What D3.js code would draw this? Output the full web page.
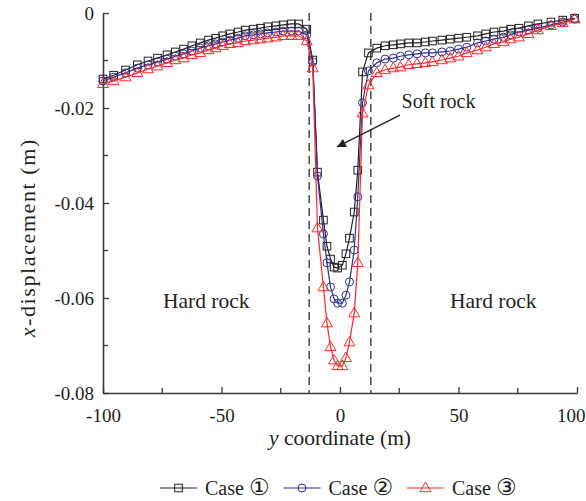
<!DOCTYPE html>
<html lang="en">
<head>
<meta charset="utf-8">
<script src="https://cdn.jsdelivr.net/npm/d3@7"></script>
<style>
    body { margin: 0; background: #fff; }
    text { font-family: "Liberation Serif", "DejaVu Serif", serif; fill: #231f20; }
</style>
</head>
<body>
<script>
// y coordinate of each monitoring point (m)
const yCoord = [
    -100, -95.5, -90.5, -85.5, -81, -77, -73, -69.5, -66, -62.5, -59, -55.5, -52.5,
    -49.5, -46.5, -43, -40, -36.5, -33.5, -30.5, -27, -24, -20.5, -17.5, -14,
    -11.5, -9.5, -7, -5.5, -4, -2.5, -1, 1, 2.5, 4, 6, 7.5, 9.5, 12,
    15.5, 19, 22.5, 25.5, 29, 32.5, 36, 39, 43, 46.5, 50, 53.5, 58, 61.5, 65,
    69, 72, 75.5, 79.5, 83.5, 89, 94, 99
];

// x-displacement (m)
const case1 = [
    -0.0139, -0.0131, -0.0120, -0.0109, -0.0101, -0.0095, -0.0088, -0.0082, -0.0076, -0.0069, -0.0063, -0.0057, -0.0053,
    -0.0048, -0.0044, -0.0040, -0.0036, -0.0034, -0.0032, -0.0029, -0.0027, -0.0025, -0.0023, -0.0023, -0.0034,
    -0.0099, -0.0335, -0.0436, -0.0491, -0.0518, -0.0535, -0.0537, -0.0531, -0.0507, -0.0474, -0.0419, -0.0331, -0.0124, -0.0084,
    -0.0074, -0.0069, -0.0067, -0.0065, -0.0063, -0.0063, -0.0061, -0.0059, -0.0057, -0.0055, -0.0053, -0.0051, -0.0048, -0.0044, -0.0040,
    -0.0038, -0.0034, -0.0032, -0.0027, -0.0023, -0.0019, -0.0015, -0.0011
];
const case2 = [
    -0.0143, -0.0135, -0.0126, -0.0116, -0.0109, -0.0103, -0.0097, -0.0091, -0.0086, -0.0080, -0.0074, -0.0069, -0.0065,
    -0.0061, -0.0057, -0.0053, -0.0048, -0.0046, -0.0044, -0.0042, -0.0040, -0.0038, -0.0038, -0.0038, -0.0046,
    -0.0103, -0.0343, -0.0465, -0.0526, -0.0577, -0.0602, -0.0611, -0.0611, -0.0594, -0.0566, -0.0499, -0.0387, -0.0189, -0.0122,
    -0.0105, -0.0097, -0.0095, -0.0091, -0.0088, -0.0086, -0.0084, -0.0084, -0.0082, -0.0080, -0.0076, -0.0072, -0.0063, -0.0059, -0.0055,
    -0.0051, -0.0046, -0.0040, -0.0036, -0.0032, -0.0025, -0.0019, -0.0013
];
const case3 = [
    -0.0149, -0.0143, -0.0135, -0.0126, -0.0118, -0.0112, -0.0105, -0.0099, -0.0095, -0.0088, -0.0084, -0.0078, -0.0074,
    -0.0069, -0.0065, -0.0063, -0.0059, -0.0057, -0.0055, -0.0053, -0.0051, -0.0048, -0.0048, -0.0048, -0.0059,
    -0.0116, -0.0453, -0.0577, -0.0653, -0.0703, -0.0731, -0.0743, -0.0743, -0.0726, -0.0693, -0.0632, -0.0526, -0.0211, -0.0152,
    -0.0126, -0.0120, -0.0116, -0.0114, -0.0109, -0.0107, -0.0105, -0.0103, -0.0099, -0.0095, -0.0091, -0.0084, -0.0078, -0.0072, -0.0065,
    -0.0061, -0.0055, -0.0051, -0.0044, -0.0036, -0.0027, -0.0021, -0.0013
];

const seriesNames = ["Case", "Case", "Case"];
const seriesNums = ["\u2460", "\u2461", "\u2462"];
const seriesColors = ["#231f20", "#2e3192", "#ff2a2a"];
const seriesMarkers = ["square", "circle", "triangle"];

const xTicks = [-100, -50, 0, 50, 100];
const xMinorTicks = [-75, -25, 25, 75];
const yTicks = [0, -0.02, -0.04, -0.06, -0.08];
const yMinorTicks = [-0.01, -0.03, -0.05, -0.07];
const softRockEdges = [-13, 13];

let w = 586, h = 501;
let margin = {top: 13, right: 9, bottom: 108, left: 103};

let svg = d3.select("body").append("svg")
    .attr("width", w)
    .attr("height", h);

let xScale = d3.scaleLinear()
    .domain([-100, 100])
    .range([margin.left, w - margin.right]);

let yScale = d3.scaleLinear()
    .domain([-0.08, 0])
    .range([h - margin.bottom, margin.top]);

let fmt = (d) => d === 0 ? "0" : (d < 0 ? "-" : "") + Math.abs(d);
let fmtY = (d) => d === 0 ? "0" : "-" + Math.abs(d).toFixed(2);

// axes (ticks pointing inward)
let xAxis = svg.append("g")
    .attr("transform", "translate(0," + (h - margin.bottom) + ")")
    .call(d3.axisBottom(xScale).tickValues(xTicks).tickFormat(fmt).tickSizeInner(-6).tickSizeOuter(0).tickPadding(16));
xAxis.append("g").selectAll("line")
    .data(xMinorTicks).enter().append("line")
    .attr("x1", d => xScale(d)).attr("x2", d => xScale(d))
    .attr("y1", 0).attr("y2", -5);

let yAxis = svg.append("g")
    .attr("transform", "translate(" + margin.left + ",0)")
    .call(d3.axisLeft(yScale).tickValues(yTicks).tickFormat(fmtY).tickSizeInner(-6).tickSizeOuter(0).tickPadding(9));
yAxis.append("g").selectAll("line")
    .data(yMinorTicks).enter().append("line")
    .attr("x1", 0).attr("x2", 5)
    .attr("y1", d => yScale(d)).attr("y2", d => yScale(d));

svg.selectAll(".domain").attr("stroke", "#3a3a3a").attr("stroke-width", 1.6);
svg.selectAll("g line").attr("stroke", "#3a3a3a").attr("stroke-width", 1.3);
svg.selectAll(".tick text").attr("font-size", "19px").attr("font-family", "Liberation Serif").attr("fill", "#231f20");
// keep the last x label inside the picture
xAxis.selectAll(".tick text").filter(d => d === 100).attr("text-anchor", "end").attr("dx", 8);

// dashed boundaries of the soft rock
svg.selectAll(".edge")
    .data(softRockEdges).enter().append("line")
    .attr("class", "edge")
    .attr("x1", d => xScale(d)).attr("x2", d => xScale(d))
    .attr("y1", yScale(0)).attr("y2", yScale(-0.08))
    .attr("stroke", "#3a3a3a")
    .attr("stroke-width", 1.4)
    .attr("stroke-dasharray", "8,5");

function drawMarker(g, type, x, y, color) {
    if (type === "square") {
        g.append("rect").attr("x", x - 3.8).attr("y", y - 3.8).attr("width", 7.6).attr("height", 7.6)
            .attr("fill", "none").attr("stroke", color).attr("stroke-width", 1);
    } else if (type === "circle") {
        g.append("circle").attr("cx", x).attr("cy", y).attr("r", 4)
            .attr("fill", "none").attr("stroke", color).attr("stroke-width", 1);
    } else {
        g.append("path").attr("d", d3.symbol(d3.symbolTriangle, 52)())
            .attr("transform", "translate(" + x + "," + (y + 0.5) + ")")
            .attr("fill", "none").attr("stroke", color).attr("stroke-width", 1);
    }
}

let allSeries = [case1, case2, case3];
let line = d3.line()
    .x(d => xScale(d[0]))
    .y(d => yScale(d[1]));

allSeries.forEach((vals, i) => {
    let pts = yCoord.map((y, j) => [y, vals[j]]);
    let g = svg.append("g");
    g.append("path")
        .datum(pts)
        .attr("d", line)
        .attr("fill", "none")
        .attr("stroke", seriesColors[i])
        .attr("stroke-width", 1.2);
    pts.forEach(p => drawMarker(g, seriesMarkers[i], xScale(p[0]), yScale(p[1]), seriesColors[i]));
});

// annotations
svg.append("text")
    .attr("x", xScale(26)).attr("y", yScale(-0.0199))
    .attr("font-size", "20px")
    .text("Soft rock");

svg.append("defs").append("marker")
    .attr("id", "arrow")
    .attr("viewBox", "0 0 10 10")
    .attr("refX", 10).attr("refY", 5)
    .attr("markerWidth", 14).attr("markerHeight", 9)
    .attr("markerUnits", "userSpaceOnUse")
    .attr("orient", "auto")
    .append("path").attr("d", "M0,0 L10,5 L0,10 Z").attr("fill", "#231f20");

svg.append("line")
    .attr("x1", xScale(25.3)).attr("y1", yScale(-0.0215))
    .attr("x2", xScale(-1.3)).attr("y2", yScale(-0.0282))
    .attr("stroke", "#231f20").attr("stroke-width", 1.3)
    .attr("marker-end", "url(#arrow)");

svg.append("text")
    .attr("x", xScale(-74.7)).attr("y", yScale(-0.0621))
    .attr("font-size", "21.5px")
    .text("Hard rock");

svg.append("text")
    .attr("x", xScale(46.4)).attr("y", yScale(-0.0621))
    .attr("font-size", "21.5px")
    .text("Hard rock");

// axis titles
let xTitle = svg.append("text")
    .attr("x", xScale(0)).attr("y", 445)
    .attr("text-anchor", "middle")
    .attr("font-size", "21.5px");
xTitle.append("tspan").attr("font-style", "italic").text("y");
xTitle.append("tspan").text(" coordinate (m)");

let yTitle = svg.append("text")
    .attr("transform", "translate(35," + yScale(-0.0473) + ") rotate(-90)")
    .attr("text-anchor", "middle")
    .attr("font-size", "22px")
    .attr("letter-spacing", "1.6px");
yTitle.append("tspan").attr("font-style", "italic").text("x");
yTitle.append("tspan").text("-displacement (m)");

// legend
let legend = svg.append("g").attr("transform", "translate(160,488)");
let lx = 0;
seriesNames.forEach((name, i) => {
    let g = legend.append("g");
    g.append("line").attr("x1", lx).attr("x2", lx + 37).attr("y1", 0).attr("y2", 0)
        .attr("stroke", seriesColors[i]).attr("stroke-width", 1.2);
    drawMarker(g, seriesMarkers[i], lx + 18.5, 0, seriesColors[i]);
    let t = g.append("text").attr("x", lx + 45).attr("y", 7).attr("font-size", "20px");
    t.append("tspan").text(name + " ");
    t.append("tspan").attr("font-size", "23px").attr("font-family", "DejaVu Sans").text(seriesNums[i]);
    lx += 45 + t.node().getComputedTextLength() + 14;
});
</script>
</body>
</html>
